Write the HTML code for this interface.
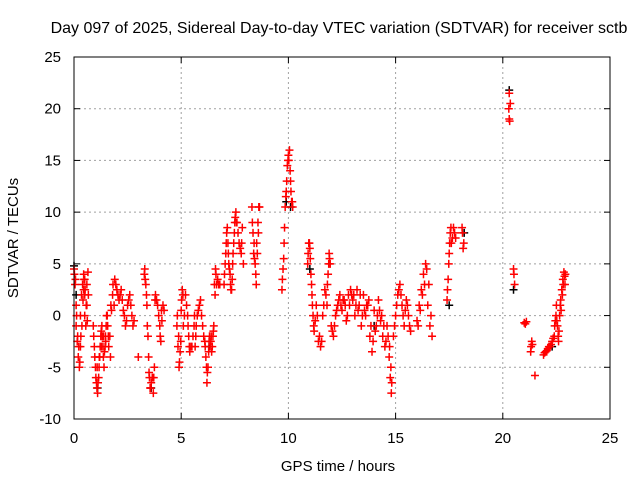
<!DOCTYPE html>
<html><head><meta charset="utf-8"><style>
html,body{margin:0;padding:0;background:#fff;}
svg{display:block;font-family:"Liberation Sans",sans-serif;}
</style></head><body>
<svg id="chart" width="640" height="480">
<text x="339" y="33" font-size="16" text-anchor="middle">Day 097 of 2025, Sidereal Day-to-day VTEC variation (SDTVAR) for receiver sctb</text>
<text x="338" y="471" font-size="15" text-anchor="middle">GPS time / hours</text>
<text transform="translate(18,238) rotate(-90)" font-size="15" text-anchor="middle">SDTVAR / TECUs</text>
<g id="grid"></g><g id="ticks"></g><g id="black"></g><g id="red"></g>
<rect x="74" y="57" width="536" height="362" fill="none" stroke="#000" stroke-width="1"/>
</svg>
<script>
const xTicks=[0,5,10,15,20,25];
const yTicks=[-10,-5,0,5,10,15,20,25];
const redT=[0,0.05,0.1,0.1,0.15,0.2,0.25,0.3,0.3,0.35,0.4,0.45,0.5,0.5,0.55,0.6,0.6,0.65,
0.9,0.95,1.0,1.05,1.1,1.15,1.2,1.25,1.3,1.35,1.4,1.45,1.5,1.55,1.6,1.7,1.75,1.8,1.9,2.0,2.1,2.2,2.3,2.4,2.5,2.6,2.7,2.8,
3.0,3.3,3.35,3.4,3.45,3.5,3.55,3.6,3.7,3.75,3.8,3.9,4.0,4.05,4.1,4.2,
4.8,4.85,4.9,4.95,5.0,5.05,5.1,5.2,5.3,5.35,5.4,5.5,5.6,5.65,5.7,5.8,5.9,6.0,6.1,6.15,6.2,6.25,6.3,6.35,6.4,6.45,6.5,6.55,6.6,6.65,6.7,6.8,
7.0,7.05,7.1,7.15,7.2,7.25,7.3,7.35,7.4,7.45,7.5,7.55,7.6,7.7,7.8,7.85,7.9,8.3,8.35,8.4,8.45,8.5,8.55,8.6,8.65,
9.7,9.75,9.8,9.85,9.9,9.95,10.0,10.05,10.1,10.15,10.2,
10.9,10.95,11.0,11.05,11.1,11.15,11.2,11.3,11.4,11.5,11.6,11.7,11.8,11.85,11.9,11.95,12.0,12.1,12.2,12.3,12.4,12.5,12.6,12.7,12.8,12.9,13.0,13.1,13.2,13.3,13.4,13.5,13.6,13.7,13.8,13.9,14.0,14.1,14.2,14.3,14.4,14.5,14.6,14.7,14.75,14.8,14.9,15.0,15.1,15.2,15.3,15.4,15.5,15.6,15.7,16.0,16.1,16.2,16.3,16.4,16.5,16.6,16.7,
17.4,17.45,17.5,17.55,17.6,17.7,17.8,18.1,18.15,
20.3,20.3,20.35,20.5,20.55,21.0,21.1,21.3,21.35,21.5,
21.9,22.0,22.1,22.2,22.3,22.4,22.45,22.5,22.55,22.6,22.65,22.7,22.75,22.8,22.85,22.9];
const redV=[4.5,3,1,-1,-2.5,-4,-5,-3,0,2,3,4,2,0,-1,1,3,4.2,
-1,-3,-5,-6.5,-7.5,-6,-4,-2,-1,-3,-5,-3,-1,0,-2,-4,0.5,2,3.5,2.5,1.5,2.5,0.5,-1,1,2,0,-0.5,
-4,4.5,3,1,-2,-5.5,-7,-6.5,-7.5,-5,2,1,-1,-2.5,-0.5,0.5,
-1,-3,-5,-3.5,0.5,2.5,-1,2,0,-2,-3.5,-3,-1,-3,-1,0.5,1.5,-1,-2.5,-4,-6.5,-5,-2.5,-3,-2,-3,-1.5,3,4.5,3,3.5,3,
3,5,7,8.5,6,4.5,3,2.5,5,7,9,10,9,7,6,8.5,5,10.5,8,7,5,3,6,8,10.5,
2.5,4.5,7,10.5,12,14.5,15.5,16,13,11,10.5,
5,7,6.5,4,2,0,-1.5,1,-2.5,-3,0,2.5,1,4,6,5,-1,-2,0,1,2,0.5,1.5,-0.5,2,2.5,1.5,0,2.5,1,-1,2,0,1,-2,-3.5,0.5,-1,1.5,-0.5,-2,-3,-1,-4,-6,-7.5,-2,0,2,3,1,-1,1.5,0,-1.5,-0.5,1,2.5,4,5,1,-1,-2,
1.5,3.5,6,8,7,8.5,7.5,8.5,6.5,
21.5,19,20.5,4.5,3,-0.7,-0.6,-3.5,-2.5,-5.8,
-3.8,-3.5,-3.2,-3,-2.5,-2,-0.5,1,-1,-2.5,0,1.5,2.5,3.5,4.2,3];
// second batch of red points as [hour, value] pairs
const redPairs=[[0.02,4],[0.07,3.5],[0.12,0],[0.17,-2],[0.22,-3],[0.27,-4.5],[0.32,-2],[0.37,-1],[0.42,1.5],[0.47,3.5],[0.52,2.5],[0.57,1],[0.62,-0.5],[0.67,2],[0.45,2.5],[0.5,3.5],
[0.92,-2],[0.97,-4],[1.02,-6],[1.07,-7],[1.12,-6.5],[1.17,-5],[1.22,-3],[1.27,-1.5],[1.32,-2],[1.37,-4],[1.42,-3.5],[1.47,-2],[1.52,0],[1.57,-1],[1.62,-3],[1.67,-2],[1.72,1],[1.82,3],[1.87,1],[1.95,3],[2.05,2],[2.15,2],[2.25,1.5],[2.35,0],[2.45,-0.5],[2.55,1.5],[2.65,1],[2.75,-1],[1.08,-5],[1.18,-4],[1.28,-3],[1.38,-2],[1.48,-2.5],
[3.28,4],[3.32,3.5],[3.38,2],[3.42,-1],[3.48,-4],[3.52,-6],[3.58,-7],[3.65,-6],[3.72,-6],[3.78,1.5],[3.85,1.5],[3.95,0],[4.02,-2],[4.08,0.5],[4.15,1],
[4.82,0],[4.88,-2],[4.92,-4.5],[4.98,-2.5],[5.02,1.5],[5.08,2],[5.15,0],[5.25,1],[5.32,-1],[5.38,-3],[5.45,-3],[5.55,-2],[5.62,0],[5.68,-2],[5.75,0],[5.85,1],[5.95,0],[6.05,-2],[6.12,-3],[6.18,-5],[6.22,-5.5],[6.28,-3.5],[6.32,-2],[6.38,-2.5],[6.42,-3.5],[6.48,-2],[6.52,-1],[6.58,2],[6.62,4],[6.75,3],
[7.02,4],[7.08,6],[7.12,8],[7.18,7],[7.22,5],[7.28,4],[7.32,2.5],[7.38,3.5],[7.42,6],[7.48,8],[7.52,9.5],[7.58,9],[7.65,8],[7.75,6.5],[7.82,7],[8.32,9],[8.38,6],[8.42,5.5],[8.48,4],[8.52,7],[8.58,9],[8.62,10.5],
[9.72,3.5],[9.78,5.5],[9.82,8.5],[9.88,11.5],[9.92,13],[9.98,15],[10.02,15],[10.08,14],[10.12,12],[10.18,11],
[10.92,6],[10.98,7],[11.02,5.5],[11.08,3],[11.12,1],[11.18,-1],[11.25,-0.5],[11.35,0],[11.45,-2],[11.55,-2.5],[11.65,1],[11.75,2],[11.82,3],[11.88,5],[11.92,5.5],
[12.05,-1.5],[12.15,-1],[12.25,0.5],[12.35,1.5],[12.45,1],[12.55,1.5],[12.65,1],[12.75,0],[12.85,1],[12.95,2],[13.05,2],[13.15,1],[13.25,0.5],[13.35,2],[13.45,0],[13.55,0.5],[13.65,1],[13.75,1.5],[13.85,-1],[13.95,-2.5],[14.05,-1.5],[14.15,0],[14.25,0.5],[14.35,0],[14.45,-1],[14.55,-2.5],[14.65,-2],
[14.72,-3],[14.78,-5],[14.82,-6.5],[14.95,-1],[15.05,1],[15.15,2.5],[15.25,2],[15.35,0],[15.45,0.5],[15.55,1],[15.65,-1],
[16.05,-1],[16.15,0.5],[16.25,2],[16.35,3],[16.45,4.5],[16.55,3],[16.65,0],
[17.42,2.5],[17.48,5],[17.52,7],[17.58,8.5],[17.65,7.5],[17.75,8],[18.12,8],[18.18,7],
[20.28,20],[20.32,18.8],[20.52,4],[21.05,-0.8],[21.32,-3],[21.38,-2.8],
[21.95,-3.6],[22.05,-3.4],[22.15,-3],[22.25,-2.8],[22.35,-2.2],[22.42,-1],[22.48,0],[22.52,-0.5],[22.58,-2],[22.62,-1.5],[22.68,1],[22.72,0.5],[22.78,2],[22.82,3],[22.88,3.8],[22.92,4]];
const blackT=[0,0.1,1.1,3.6,9.9,10.1,11.0,17.5,18.2,20.3,20.5,22.3,6.3,14.0];
const blackV=[4.8,2,-7,-7,11,10.5,4.5,1,8,21.8,2.5,-3,-3,-1];
const X0=74,X1=610,Y0=419,Y1=57;
const xs=t=>X0+(t-0)/25*(X1-X0);
const ys=v=>Y0-(v+10)/35*(Y0-Y1);
const NS="http://www.w3.org/2000/svg";
function mk(tag,attrs,parent){const e=document.createElementNS(NS,tag);for(const k in attrs)e.setAttribute(k,attrs[k]);parent.appendChild(e);return e;}
const grid=document.getElementById('grid'),ticks=document.getElementById('ticks');
xTicks.forEach(t=>{const x=xs(t);
if(t>0&&t<25){const g=mk('line',{x1:x,x2:x,y1:Y1,y2:Y0,stroke:'#a0a0a0','stroke-dasharray':'2,3'},grid);

}
mk('line',{x1:x,x2:x,y1:Y0,y2:Y0-6,stroke:'#000'},ticks);
mk('line',{x1:x,x2:x,y1:Y1,y2:Y1+6,stroke:'#000'},ticks);
const l=mk('text',{x:x,y:443,'font-size':15,'text-anchor':'middle'},ticks);l.textContent=t;

});
yTicks.forEach(v=>{const y=ys(v);
if(v>-10&&v<25){const g=mk('line',{x1:X0,x2:X1,y1:y,y2:y,stroke:'#a0a0a0','stroke-dasharray':'2,3'},grid);

}
mk('line',{x1:X0,x2:X0+6,y1:y,y2:y,stroke:'#000'},ticks);
mk('line',{x1:X1,x2:X1-6,y1:y,y2:y,stroke:'#000'},ticks);
const l=mk('text',{x:61,y:y+5,'font-size':15,'text-anchor':'end'},ticks);l.textContent=v;

});
function plus(g,t,v,c){const x=xs(t),y=ys(v);
return mk('path',{d:`M${x-4},${y}h8M${x},${y-4}v8`,stroke:c,'stroke-width':1.5,fill:'none'},g);}
const bg=document.getElementById('black');
blackT.forEach((t,i)=>{const p=plus(bg,t,blackV[i],'#000');

});
const rg=document.getElementById('red');
redT.forEach((t,i)=>{const p=plus(rg,t,redV[i],'#ff0000');

});
redPairs.forEach(d=>{const p=plus(rg,d[0],d[1],'#ff0000');

});
</script>
</body></html>
